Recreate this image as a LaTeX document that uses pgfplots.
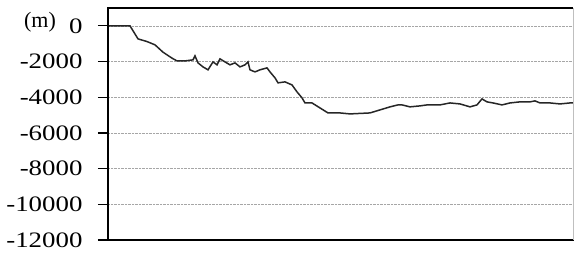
\documentclass[border=0pt]{standalone}
\usepackage{fontspec}
\setmainfont{Liberation Serif}
\usepackage{graphicx}
\usepackage{pgfplots}
\pgfplotsset{compat=1.18}
\newcommand\sx[1]{\scalebox{1.28}[1.05]{#1}}
\begin{document}
\begin{tikzpicture}
\useasboundingbox (-108pt,-17pt) rectangle (466pt,240pt);
\begin{axis}[
  at={(0pt,0pt)}, anchor=south west,
  scale only axis, width=465pt, height=232pt,
  xmin=0, xmax=465, ymin=-12000, ymax=1000,
  xtick=\empty,
  scaled y ticks=false,
  ytick={-12000,-10000,-8000,-6000,-4000,-2000,0},
  yticklabels={\sx{-12000},\sx{-10000},\sx{-8000},\sx{-6000},\sx{-4000},\sx{-2000},\sx{0}},
  ymajorgrids,
  major grid style={densely dotted, gray!70, line width=0.6pt},
  tick align=outside, major tick length=10pt,
  ytick style={black, line width=1.2pt},
  yticklabel style={font=\fontsize{21}{21}\selectfont, xshift=-12pt},
  axis line style={draw=none},
  clip=false,
]
\addplot[black!85, line width=1.5pt] coordinates {
(0,0) (22,0) (30,-730) (39,-880) (47,-1065) (55,-1475) (64,-1810) (69,-1965)
(77,-1965) (85,-1905) (87,-1680) (90,-2075) (95,-2300) (100,-2465) (105,-2020)
(109,-2185) (112,-1850) (117,-2020) (122,-2185) (127,-2075) (132,-2300) (137,-2185)
(140,-2020) (142,-2465) (147,-2580) (152,-2465) (159,-2355) (162,-2580) (167,-2915)
(170,-3195) (177,-3140) (184,-3310) (189,-3700) (194,-4035) (197,-4320) (204,-4320)
(212,-4600) (220,-4880) (232,-4880) (242,-4935) (262,-4880) (272,-4710) (282,-4540)
(290,-4430) (294,-4430) (302,-4540) (312,-4485) (319,-4430) (332,-4430) (342,-4320)
(352,-4375) (362,-4540) (369,-4430) (374,-4095) (379,-4260) (385,-4320) (394,-4430)
(402,-4320) (412,-4260) (422,-4260) (427,-4205) (432,-4320) (442,-4320) (452,-4375)
(462,-4320) (465,-4320)
};
\draw[black, line width=2pt] (rel axis cs:0,0) -- (rel axis cs:0,1) -- (rel axis cs:1,1);
\draw[black, line width=2pt] (rel axis cs:0,0) -- (rel axis cs:1,0);
\draw[gray!50, line width=0.6pt] (rel axis cs:1,0) -- (rel axis cs:1,1);
\end{axis}
\node[inner sep=0pt] at (-68pt,218pt) {\fontsize{22}{22}\selectfont(m)};
\end{tikzpicture}
\end{document}
